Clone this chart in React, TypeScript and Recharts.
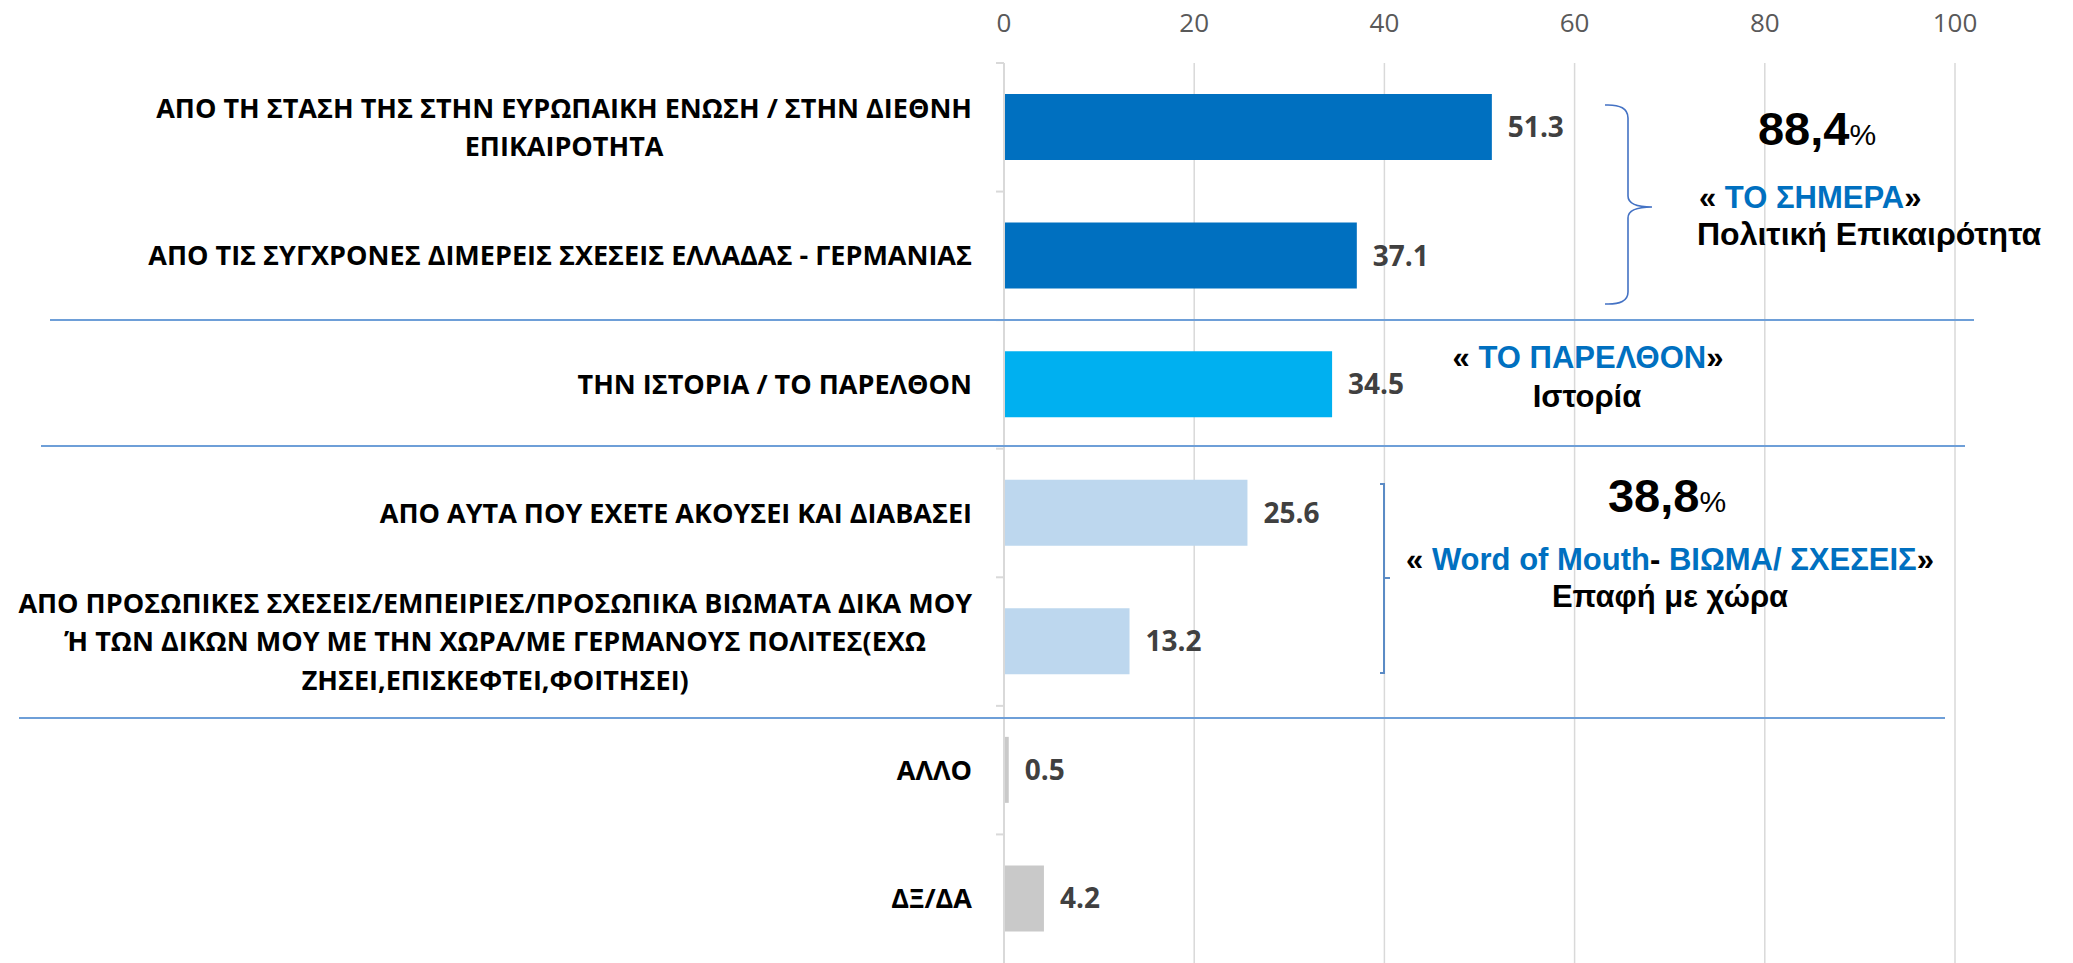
import React from 'react';
import { BarChart, Bar, XAxis, YAxis, CartesianGrid, LabelList, Cell } from 'recharts';

const categories = [
  'ΑΠΟ ΤΗ ΣΤΑΣΗ ΤΗΣ ΣΤΗΝ ΕΥΡΩΠΑΙΚΗ ΕΝΩΣΗ / ΣΤΗΝ ΔΙΕΘΝΗ\nΕΠΙΚΑΙΡΟΤΗΤΑ',
  'ΑΠΟ ΤΙΣ ΣΥΓΧΡΟΝΕΣ ΔΙΜΕΡΕΙΣ ΣΧΕΣΕΙΣ ΕΛΛΑΔΑΣ - ΓΕΡΜΑΝΙΑΣ',
  'ΤΗΝ ΙΣΤΟΡΙΑ / ΤΟ ΠΑΡΕΛΘΟΝ',
  'ΑΠΟ ΑΥΤΑ ΠΟΥ ΕΧΕΤΕ ΑΚΟΥΣΕΙ ΚΑΙ ΔΙΑΒΑΣΕΙ',
  'ΑΠΟ ΠΡΟΣΩΠΙΚΕΣ ΣΧΕΣΕΙΣ/ΕΜΠΕΙΡΙΕΣ/ΠΡΟΣΩΠΙΚΑ ΒΙΩΜΑΤΑ ΔΙΚΑ ΜΟΥ\nΉ ΤΩΝ ΔΙΚΩΝ ΜΟΥ ΜΕ ΤΗΝ ΧΩΡΑ/ΜΕ ΓΕΡΜΑΝΟΥΣ ΠΟΛΙΤΕΣ(ΕΧΩ\nΖΗΣΕΙ,ΕΠΙΣΚΕΦΤΕΙ,ΦΟΙΤΗΣΕΙ)',
  'ΑΛΛΟ',
  'ΔΞ/ΔΑ',
];

const values = [51.3, 37.1, 34.5, 25.6, 13.2, 0.5, 4.2];

const xTicks = [0, 20, 40, 60, 80, 100];

const data = categories.map((name, i) => ({ name, value: values[i] }));

const BAR_COLORS = ['#0070C0', '#0070C0', '#00B0F0', '#BDD7EE', '#BDD7EE', '#C9C9C9', '#C9C9C9'];

const W = 2073;
const H = 963;
const LABEL_SIZE = 27;
const LABEL_FONT = `bold ${LABEL_SIZE}px 'Open Sans'`;
const ANNO_FONT = "'Liberation Sans', Arial, sans-serif";
const BLUE = '#0070C0';

let ctx: CanvasRenderingContext2D | null = null;
const measure = (s: string) => {
  if (!ctx) ctx = document.createElement('canvas').getContext('2d');
  if (!ctx) return s.length * 15;
  ctx.font = LABEL_FONT;
  return ctx.measureText(s).width;
};

// category label: block of lines, centred on each other, right edge at x
const CategoryTick = (props: any) => {
  const { x, y, payload } = props;
  const lines = String(payload.value).split('\n');
  const maxW = Math.max(...lines.map(measure));
  const cx = x - maxW / 2;
  const lh = 38.5;
  const first = y - ((lines.length - 1) * lh) / 2 + 9.5;
  const half = payload.offset || 0;
  return (
    <g>
      <line x1={x + 24} x2={x + 32} y1={y - half} y2={y - half} stroke="#D9D9D9" strokeWidth={2} />
      <text textAnchor="middle" fill="#000" fontFamily="'Open Sans'" fontWeight={700} fontSize={LABEL_SIZE}>
        {lines.map((l, i) => (
          <tspan key={i} x={cx} y={first + i * lh}>
            {l}
          </tspan>
        ))}
      </text>
    </g>
  );
};

const Annotations = () => (
  <svg width={W} height={H} style={{ position: 'absolute', left: 0, top: 0, pointerEvents: 'none' }}>
    {/* group separators */}
    <line x1={50} x2={1974} y1={320} y2={320} stroke="#6E9FD8" strokeWidth={2} />
    <line x1={41} x2={1965} y1={446} y2={446} stroke="#6E9FD8" strokeWidth={2} />
    <line x1={19} x2={1945} y1={718} y2={718} stroke="#6E9FD8" strokeWidth={2} />

    {/* braces */}
    <path
      d="M1605,105 Q1628,104 1628,118 L1628,196 Q1628,207 1652,207 Q1628,207 1628,218 L1628,292 Q1628,305 1605,304"
      fill="none"
      stroke="#4472C4"
      strokeWidth={1.6}
    />
    <path d="M1380,484 L1384,484 L1384,673 L1380,673 M1384,578 L1390,578" fill="none" stroke="#5B8BC5" strokeWidth={2} />

    <g fontFamily={ANNO_FONT} fontWeight={700}>
      <text x={1817} y={145} textAnchor="middle" fill="#000">
        <tspan fontSize={47}>88,4</tspan>
        <tspan fontSize={30} fontWeight={400}>%</tspan>
      </text>
      <text x={1699} y={208} fontSize={31} fill="#000">
        «<tspan fill={BLUE}> ΤΟ ΣΗΜΕΡΑ</tspan>»
      </text>
      <text x={1697} y={245} fontSize={32} fill="#000">
        Πολιτική Επικαιρότητα
      </text>

      <text x={1588} y={368} fontSize={31} textAnchor="middle" fill="#000">
        «<tspan fill={BLUE}> ΤΟ ΠΑΡΕΛΘΟΝ</tspan>»
      </text>
      <text x={1587} y={407} fontSize={31} textAnchor="middle" fill="#000">
        Ιστορία
      </text>

      <text x={1667} y={512} textAnchor="middle" fill="#000">
        <tspan fontSize={47}>38,8</tspan>
        <tspan fontSize={30} fontWeight={400}>%</tspan>
      </text>
      <text x={1670} y={570} fontSize={31} textAnchor="middle" fill="#000">
        «<tspan fill={BLUE}> Word of Mouth</tspan>- <tspan fill={BLUE}>ΒΙΩΜΑ/ ΣΧΕΣΕΙΣ</tspan>»
      </text>
      <text x={1670} y={607} fontSize={31} textAnchor="middle" fill="#000">
        Επαφή με χώρα
      </text>
    </g>
  </svg>
);

export default function App() {
  return (
    <div style={{ position: 'absolute', left: 0, top: 0, width: W, height: H, background: '#fff' }}>
      <BarChart
        width={W}
        height={H}
        data={data}
        layout="vertical"
        margin={{ top: 0, right: 118, bottom: 0, left: 0 }}
      >
        <CartesianGrid horizontal={false} stroke="#D9D9D9" strokeWidth={1.5} />
        <XAxis
          type="number"
          orientation="top"
          domain={[0, 100]}
          ticks={xTicks}
          height={63}
          axisLine={false}
          tickLine={false}
          tickSize={0}
          tickMargin={31}
          tick={{ fill: '#595959', fontSize: 26, fontFamily: "'Open Sans'" }}
          interval={0}
        />
        <YAxis
          type="category"
          dataKey="name"
          width={1004}
          axisLine={{ stroke: '#D9D9D9', strokeWidth: 2 }}
          tickLine={false}
          tickSize={8}
          tickMargin={24}
          tick={<CategoryTick />}
          interval={0}
        />
        <Bar dataKey="value" barSize={66} isAnimationActive={false}>
          {data.map((d, i) => (
            <Cell key={d.name} fill={BAR_COLORS[i]} />
          ))}
          <LabelList
            dataKey="value"
            position="right"
            offset={16}
            fill="#404040"
            fontSize={28}
            fontWeight={700}
            fontFamily="'Open Sans'"
            formatter={(v: any) => Number(v).toFixed(1)}
          />
        </Bar>
      </BarChart>
      <Annotations />
    </div>
  );
}
